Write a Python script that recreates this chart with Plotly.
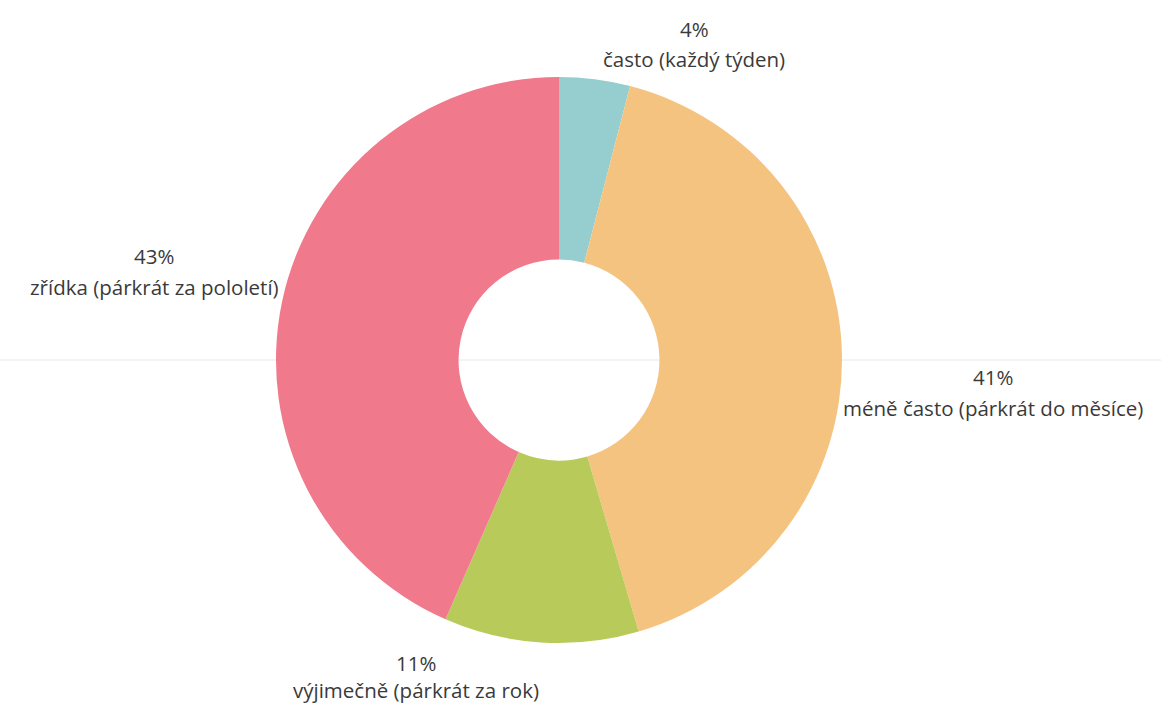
import plotly.graph_objects as go

# Survey answers: how often respondents do the activity
categories = [
    "často (každý týden)",
    "méně často (párkrát do měsíce)",
    "výjimečně (párkrát za rok)",
    "zřídka (párkrát za pololetí)",
]
shares = [4, 41, 11, 43]
colors = ["#96CDCF", "#F5C380", "#B8CB5A", "#F0798C"]

W, H = 1161, 707
cx_px, cy_px, r_px = 559, 360, 283
m_t = cy_px - r_px
m_b = H - (cy_px + r_px)

fig = go.Figure(
    go.Pie(
        labels=categories,
        values=shares,
        marker=dict(colors=colors, line=dict(width=0)),
        hole=0.355,
        sort=False,
        direction="clockwise",
        rotation=0,
        textinfo="none",
        hoverinfo="label+percent",
        domain=dict(x=[(cx_px - r_px) / W, (cx_px + r_px) / W], y=[0, 1]),
        showlegend=False,
    )
)

# Label anchors: pixel centre of the percentage line and spacing to the category line
label_pos = [(694, 29, 30), (993, 377, 31), (416, 663, 27), (154, 256, 31)]
total = sum(shares)
font = dict(family="Open Sans, Noto Sans, sans-serif", size=20.5, color="#3a3a3a")


def px_to_paper(x, y):
    return x / W, 1 - (y - m_t) / (H - m_t - m_b)


for cat, val, (lx, ly, gap) in zip(categories, shares, label_pos):
    pct = f"{round(val / total * 100)}%"
    for text, yy in ((pct, ly), (cat, ly + gap)):
        px, py = px_to_paper(lx, yy)
        fig.add_annotation(
            x=px, y=py, xref="paper", yref="paper",
            text=text, showarrow=False, font=font,
            xanchor="center", yanchor="middle",
        )

# faint horizontal baseline through the centre of the donut
fig.add_shape(
    type="line", xref="paper", yref="paper",
    x0=0, x1=1, y0=0.5, y1=0.5,
    line=dict(color="#E8E8E8", width=1), layer="below",
)

fig.update_layout(
    width=W, height=H,
    margin=dict(l=0, r=0, t=m_t, b=m_b),
    paper_bgcolor="white",
    plot_bgcolor="white",
)

fig.write_html("out.html")
